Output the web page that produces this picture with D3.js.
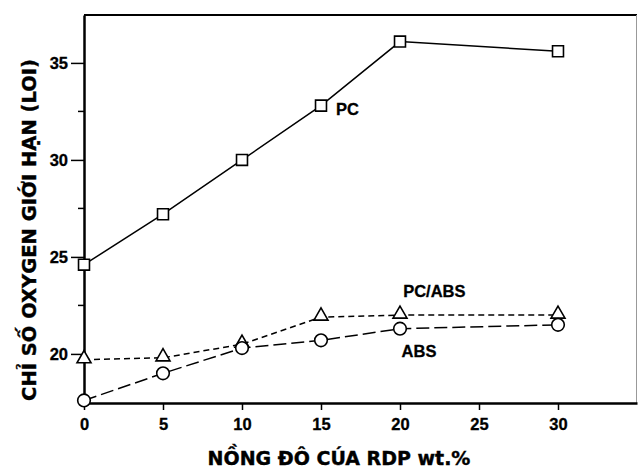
<!DOCTYPE html>
<html>
<head>
<meta charset="utf-8">
<style>
  body { margin: 0; background: #fff; }
</style>
</head>
<body>
<script src="https://cdn.jsdelivr.net/npm/d3@7"></script>
<script>
// dữ liệu
var xVals = [0, 5, 10, 15, 20, 30];
var pc = [24.6, 27.2, 30.0, 32.8, 36.1, 35.6];
var pcAbs = [19.7, 19.8, 20.5, 21.9, 22.0, 22.0];
var abs = [17.6, 19.0, 20.3, 20.7, 21.3, 21.5];
var xTicks = [0, 5, 10, 15, 20, 25, 30];
var yTicks = [20, 25, 30, 35];
var yMinor = [22.5, 27.5, 32.5];

var width = 638, height = 470;
var margin = {top: 15, right: 1, bottom: 67, left: 84};

var svg = d3.select("body").append("svg")
    .attr("width", width)
    .attr("height", height);

var x = d3.scaleLinear().domain([0, 35]).range([margin.left, width - margin.right]);
var y = d3.scaleLinear().domain([17.47, 37.47]).range([height - margin.bottom, margin.top]);

var tickFont = "Liberation Sans, Arial, sans-serif";

// khung
svg.append("line")
    .attr("x1", margin.left).attr("x2", width - margin.right)
    .attr("y1", margin.top).attr("y2", margin.top)
    .attr("stroke", "#000").attr("stroke-width", 2);
svg.append("line")
    .attr("x1", width - 1.5).attr("x2", width - 1.5)
    .attr("y1", margin.top).attr("y2", height - margin.bottom)
    .attr("stroke", "#999").attr("stroke-width", 1);

// trục x
var xAxis = svg.append("g")
    .attr("transform", "translate(0," + (height - margin.bottom) + ")")
    .call(d3.axisBottom(x).tickValues(xTicks).tickSize(7).tickSizeOuter(0).tickPadding(8));
xAxis.select(".domain").attr("stroke-width", 2.5);
xAxis.selectAll(".tick line").attr("stroke-width", 1.5);
xAxis.selectAll("text")
    .attr("font-family", tickFont)
    .attr("font-weight", "bold")
    .attr("font-size", "16.5px")
    .attr("fill", "#000")
    .attr("stroke", "#000")
    .attr("stroke-width", 0.3);

// trục y
var yAxis = svg.append("g")
    .attr("transform", "translate(" + margin.left + ",0)")
    .call(d3.axisLeft(y).tickValues(yTicks).tickSize(13).tickSizeOuter(0).tickPadding(3));
yAxis.select(".domain").attr("stroke-width", 2.5);
yAxis.selectAll(".tick line").attr("stroke-width", 1.5);
yAxis.selectAll("text")
    .attr("font-family", tickFont)
    .attr("font-weight", "bold")
    .attr("font-size", "16.5px")
    .attr("fill", "#000")
    .attr("stroke", "#000")
    .attr("stroke-width", 0.3);

svg.selectAll(".minor")
    .data(yMinor)
    .enter()
    .append("line")
    .attr("x1", margin.left - 6).attr("x2", margin.left)
    .attr("y1", function(d){ return y(d); })
    .attr("y2", function(d){ return y(d); })
    .attr("stroke", "#000").attr("stroke-width", 1.5);

// đường
var series = [
  {vals: pc, dash: null, mark: "square"},
  {vals: pcAbs, dash: "6,4", mark: "triangle"},
  {vals: abs, dash: "13,5", mark: "circle"}
];

var line = d3.line()
    .x(function(d, i){ return x(xVals[i]); })
    .y(function(d){ return y(d); });

series.forEach(function(s){
  svg.append("path")
      .attr("d", line(s.vals))
      .attr("fill", "none")
      .attr("stroke", "#000")
      .attr("stroke-width", 1.5)
      .attr("stroke-dasharray", s.dash);
});

series.forEach(function(s){
  var sym = s.mark == "square" ? d3.symbolSquare : (s.mark == "triangle" ? d3.symbolTriangle : d3.symbolCircle);
  var size = s.mark == "square" ? 120 : (s.mark == "triangle" ? 85 : 125);
  svg.selectAll(".m-" + s.mark)
      .data(s.vals)
      .enter()
      .append("path")
      .attr("d", d3.symbol().type(sym).size(size))
      .attr("transform", function(d, i){
        var dy = s.mark == "triangle" ? -1 : 0;
        return "translate(" + x(xVals[i]) + "," + (y(d) + dy) + ")";
      })
      .attr("fill", "#fff")
      .attr("stroke", "#000")
      .attr("stroke-width", 1.6);
});

// nhãn đường
var labels = [
  {t: "PC", xv: 15.95, yv: 32.3},
  {t: "PC/ABS", xv: 20.2, yv: 22.95},
  {t: "ABS", xv: 20.1, yv: 19.85}
];
svg.selectAll(".lbl")
    .data(labels)
    .enter()
    .append("text")
    .attr("x", function(d){ return x(d.xv); })
    .attr("y", function(d){ return y(d.yv); })
    .attr("font-family", tickFont)
    .attr("font-weight", "bold")
    .attr("font-size", "16.5px")
    .attr("fill", "#000")
    .attr("stroke", "#000")
    .attr("stroke-width", 0.3)
    .text(function(d){ return d.t; });

// tiêu đề trục
svg.append("text")
    .attr("x", 339)
    .attr("y", 465)
    .attr("text-anchor", "middle")
    .attr("font-family", "DejaVu Sans, Verdana, sans-serif")
    .attr("font-weight", "bold")
    .attr("font-size", "19px")
    .attr("fill", "#000")
    .attr("stroke", "#000")
    .attr("stroke-width", 0.4)
    .text("NỒNG ĐÔ CÚA RDP wt.%");

svg.append("text")
    .attr("transform", "translate(36,230) rotate(-90)")
    .attr("text-anchor", "middle")
    .attr("font-family", "DejaVu Sans, Verdana, sans-serif")
    .attr("font-weight", "bold")
    .attr("font-size", "19.5px")
    .attr("fill", "#000")
    .attr("stroke", "#000")
    .attr("stroke-width", 0.4)
    .text("CHỈ SỐ OXYGEN GIỚI HẠN (LOI)");
</script>
</body>
</html>
